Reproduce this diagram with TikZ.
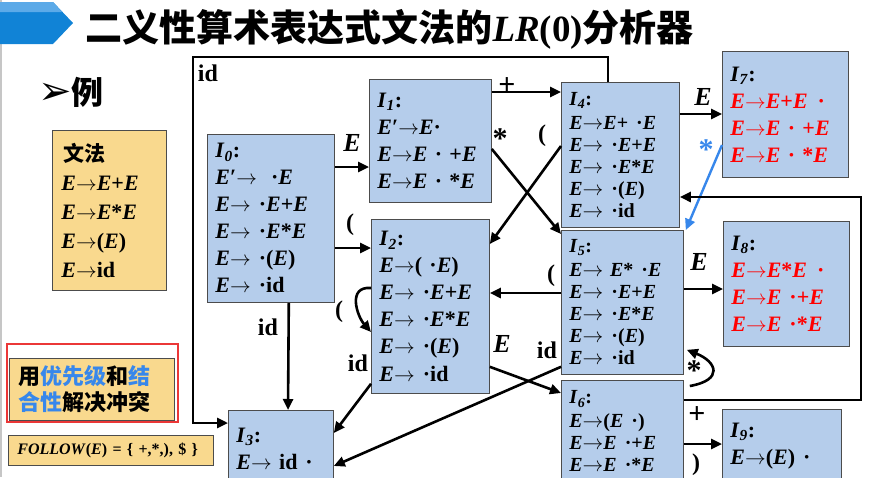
\documentclass[tikz,border=0pt]{standalone}
\usepackage{fontspec}
\setmainfont{Liberation Serif}
\newfontfamily\cjk{Noto Sans CJK SC}
\newfontfamily\dingfont{DejaVu Sans}
\usetikzlibrary{arrows.meta}

\definecolor{boxblue}{RGB}{181,205,235}
\definecolor{boxorange}{RGB}{249,217,142}
\definecolor{headblue}{RGB}{17,131,214}
\definecolor{headlight}{RGB}{92,170,232}
\definecolor{starblue}{RGB}{55,135,235}
\definecolor{itemred}{RGB}{255,0,0}
\definecolor{notered}{RGB}{235,55,55}

\newcommand{\Ev}{\textit{E}}
\newcommand{\ar}{\ensuremath{\rightarrow}}
\newcommand{\st}[1]{\textit{I}\textsubscript{\textit{#1}}:}

\tikzset{
  item/.style={draw=black!70, line width=0.8pt, fill=boxblue, anchor=north west,
    align=left, inner xsep=8pt, font=\fontsize{22}{27}\selectfont\bfseries},
  tight/.style={font=\fontsize{20}{22}\selectfont\bfseries},
  gram/.style={draw=black!70, line width=0.8pt, fill=boxorange, anchor=north west,
    align=left, inner xsep=9pt},
  trans/.style={line width=2.6pt, -{Triangle[length=11pt,width=10pt]}},
  lab/.style={font=\fontsize{24}{24}\selectfont\bfseries},
  sym/.style={font=\fontsize{30}{30}\selectfont\bfseries},
  elab/.style={font=\fontsize{26}{26}\selectfont\bfseries\itshape},
}

\begin{document}
\begin{tikzpicture}[x=1pt, y=-1pt]
    \useasboundingbox (0,0) rectangle (878,477);
    % title bar
    \draw[gray!45, line width=1.5pt] (0.75,0) -- (0.75,477);
    \fill[headblue] (0,2) -- (53,2) -- (73,23) -- (53,44) -- (0,44) -- cycle;
    \fill[headlight] (0,2) -- (53,2) -- (62,12) -- (0,12) -- cycle;
    \node[anchor=base west, font=\cjk\bfseries\fontsize{37}{37}\selectfont] (title) at (82,41)
        {二义性算术表达式文法的{\rmfamily\bfseries\itshape LR}{\rmfamily\bfseries(0)}分析器};
    \node[anchor=base west, inner sep=0pt] (ex) at (38,104)
        {{\dingfont\fontsize{40}{40}\selectfont ➢}{\cjk\bfseries\fontsize{32}{32}\selectfont 例}};

    % grammar and notes
    \node[gram, text width=96pt, minimum height=160pt, font=\fontsize{22}{29}\selectfont\bfseries] (G) at (52,130)
        {\hspace{2pt}{\cjk\fontsize{21}{29}\selectfont 文法}\\ \Ev\ar\Ev{}+\Ev\\ \Ev\ar\Ev{}*\Ev\\ \Ev\ar(\Ev)\\ \Ev\ar id};
    \draw[notered, line width=2pt] (7,344) rectangle (178,422);
    \node[gram, text width=147pt, minimum height=62pt, font=\cjk\bfseries\fontsize{22}{26}\selectfont] (note) at (9,358)
        {用{\color{starblue}优先级}和{\color{starblue}结}\\{\color{starblue}合性}解决冲突};
    \node[gram, text width=187pt, minimum height=30pt, inner ysep=2pt, font=\fontsize{16}{16}\selectfont\bfseries] (follow) at (8,435)
        {\textit{FOLLOW}(\textit{E}) = \{ +,*,), \$ \}};

    % item sets
    \node[item, text width=111pt, minimum height=168pt] (I0) at (207,134)
        {\st{0}\\ \Ev′\ar\hspace{14pt}·\Ev\\ \Ev\ar\hspace{8pt}·\Ev{}+\Ev\\ \Ev\ar\hspace{8pt}·\Ev{}*\Ev\\ \Ev\ar\hspace{8pt}·(\Ev)\\ \Ev\ar\hspace{8pt}·id};
    \node[item, text width=106pt, minimum height=123pt] (I1) at (369,79)
        {\st{1}\\ \Ev′\ar\Ev·\\ \Ev\ar\Ev{} · +\Ev\\ \Ev\ar\Ev{} · *\Ev};
    \node[item, text width=102pt, minimum height=174pt] (I2) at (371,219)
        {\st{2}\\ \Ev\ar( ·\Ev)\\ \Ev\ar\hspace{8pt}·\Ev{}+\Ev\\ \Ev\ar\hspace{8pt}·\Ev{}*\Ev\\ \Ev\ar\hspace{8pt}·(\Ev)\\ \Ev\ar\hspace{8pt}·id};
    \node[item, text width=89pt, minimum height=76pt] (I3) at (228,410)
        {\st{3}\\ \Ev\ar{} id\hspace{8pt}·};
    \node[item, tight, text width=102pt, minimum height=145pt] (I4) at (561,82)
        {\st{4}\\[2pt] \Ev\ar\Ev{}+\hspace{8pt}·\Ev\\ \Ev\ar\hspace{8pt}·\Ev{}+\Ev\\ \Ev\ar\hspace{8pt}·\Ev{}*\Ev\\ \Ev\ar\hspace{8pt}·(\Ev)\\ \Ev\ar\hspace{8pt}·id};
    \node[item, tight, text width=106pt, minimum height=144pt] (I5) at (561,230)
        {\st{5}\\[2pt] \Ev\ar{} \Ev{}*\hspace{8pt}·\Ev\\ \Ev\ar\hspace{8pt}·\Ev{}+\Ev\\ \Ev\ar\hspace{8pt}·\Ev{}*\Ev\\ \Ev\ar\hspace{8pt}·(\Ev)\\ \Ev\ar\hspace{8pt}·id};
    \node[item, tight, text width=106pt, minimum height=102pt] (I6) at (561,380)
        {\st{6}\\[2pt] \Ev\ar(\Ev\hspace{8pt}·)\\ \Ev\ar\Ev\hspace{8pt}·+\Ev\\ \Ev\ar\Ev\hspace{8pt}·*\Ev};
    \node[item, text width=110pt, minimum height=126pt] (I7) at (722,51)
        {\st{7}\\ \color{itemred}\Ev\ar\Ev{}+\Ev\hspace{10pt}·\\ \color{itemred}\Ev\ar\Ev{} · +\Ev\\ \color{itemred}\Ev\ar\Ev{} · *\Ev};
    \node[item, text width=110pt, minimum height=125pt] (I8) at (723,221)
        {\st{8}\\ \color{itemred}\Ev\ar\Ev{}*\Ev\hspace{10pt}·\\ \color{itemred}\Ev\ar\Ev\hspace{8pt}·+\Ev\\ \color{itemred}\Ev\ar\Ev\hspace{8pt}·*\Ev};
    \node[item, text width=103pt, minimum height=74pt] (I9) at (722,409)
        {\st{9}\\ \Ev\ar(\Ev)\hspace{8pt}·};

    % transitions
    \draw[trans] ([yshift=-33]I0.north east) -- ([yshift=-88]I1.north west);
    \draw[trans] ([yshift=-114]I0.north east) -- ([yshift=-29]I2.north west);
    \draw[trans] ([xshift=-46]I0.south east) -- ([xshift=60]I3.north west);
    \draw[trans] ([yshift=-13]I1.north east) -- ([yshift=-10]I4.north west);
    \draw[trans] ([yshift=-70]I1.north east) -- ([yshift=-4]I5.north west);
    \draw[trans] ([yshift=-64]I4.north west) -- ([yshift=-25]I2.north east);
    \draw[trans] ([yshift=-63]I5.north west) -- ([yshift=-74]I2.north east);
    \draw[trans] ([yshift=-69]I2.north west) .. controls +(-24,-2) and +(-14,-16) .. ([yshift=-113]I2.north west);
    \draw[trans] ([yshift=10]I2.south west) -- ([yshift=-23]I3.north east);
    \draw[trans] ([yshift=8]I5.south west) -- ([yshift=-56]I3.north east);
    \draw[trans] ([yshift=27]I2.south east) -- ([yshift=-13]I6.north west);
    \draw[trans] ([yshift=-32]I4.north east) -- ([yshift=-63]I7.north west);
    \draw[trans, starblue, line width=2.4pt] ([yshift=-94]I7.north west) -- ([xshift=2]I5.north east);
    \draw[trans] ([yshift=-59]I5.north east) -- ([yshift=-68]I8.north west);
    \draw[trans] ([shift={(6,6)}]I6.north east) .. controls +(34,-6) and +(30,12) .. ([shift={(3,-25)}]I5.south east);
    \draw[trans] ([yshift=-20]I6.north east) -- ++(177,0) |- ([yshift=-115]I4.north east);
    \draw[trans] ([yshift=-64]I6.north east) -- ([yshift=-35]I9.north west);
    \draw[trans] ([xshift=47]I4.north west) -- ++(0,-25) -- ++(-415,0) |- ([yshift=-13]I3.north west);

    % transition labels
    \node[elab] (lE01) at (352,143) {E};
    \node[lab] (lp02) at (350,225) {(};
    \node[lab] (lid03) at (268,327) {id};
    \node[sym] (lpl14) at (507,86) {+};
    \node[sym] (ls15) at (500,139) {*};
    \node[lab] (lp42) at (542,136) {(};
    \node[lab] (lp52) at (551,276) {(};
    \node[lab] (lp22) at (339,312) {(};
    \node[lab] (lid23) at (358,363) {id};
    \node[lab] (lid53) at (547,350) {id};
    \node[elab] (lE26) at (502,344) {E};
    \node[elab] (lE47) at (703,97) {E};
    \node[sym, starblue] (ls75) at (706,150) {*};
    \node[elab] (lE58) at (699,262) {E};
    \node[sym] (ls65) at (694,371) {*};
    \node[sym] (lpl64) at (697,415) {+};
    \node[lab] (lr69) at (696,465) {)};
    \node[lab] (lid43) at (208,73) {id};
\end{tikzpicture}
\end{document}
